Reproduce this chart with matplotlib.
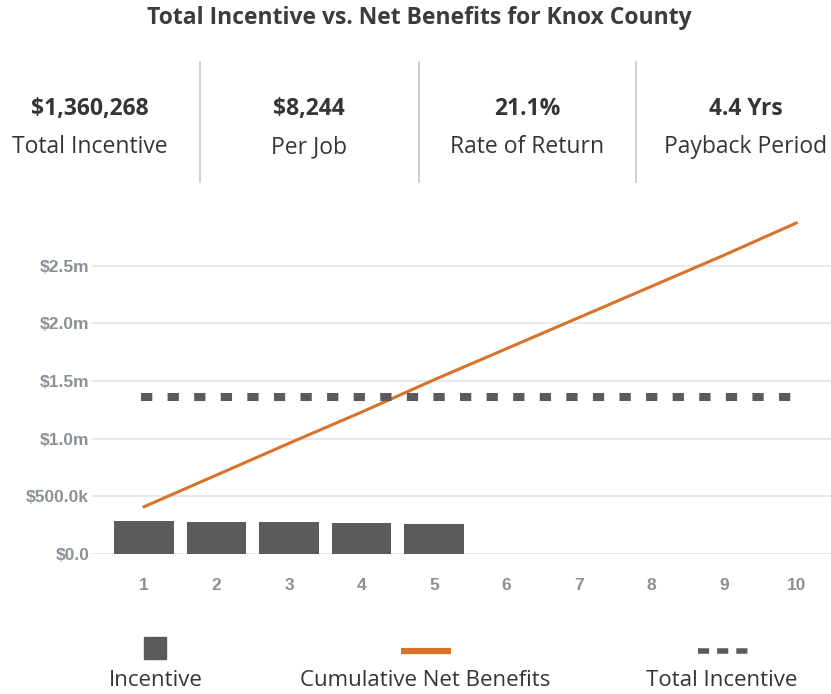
import numpy as np
import matplotlib
matplotlib.use("Agg")
import matplotlib.pyplot as plt
from matplotlib.patches import Rectangle
from matplotlib.lines import Line2D
from matplotlib.ticker import FuncFormatter

# Data
years = [1, 2, 3, 4, 5, 6, 7, 8, 9, 10]
incentive = [284000, 277000, 274000, 267000, 259000]
net_benefits = [410000, 685000, 960000, 1230000, 1510000,
                1780000, 2050000, 2320000, 2590000, 2870000]
total_incentive = 1360268

stat_values = ["$1,360,268", "$8,244", "21.1%", "4.4 Yrs"]
stat_labels = ["Total Incentive", "Per Job", "Rate of Return", "Payback Period"]
legend_labels = ["Incentive", "Cumulative Net Benefits", "Total Incentive"]

BAR = "#5b5b5d"
ORANGE = "#d9722b"
TICK = "#8b9098"
HEAD = "#333538"
FONT = "Open Sans"

W, H = 831, 694
fig = plt.figure(figsize=(W / 100, H / 100), dpi=100)


def fx(px):
    return px / W


def fy(py):
    return 1 - py / H


# Title and header stats
fig.text(fx(419), fy(18), "Total Incentive vs. Net Benefits for Knox County",
         ha="center", va="center", fontsize=16.5, fontweight="bold",
         color="#3a3c40", family=FONT)
cols = [90, 309, 527, 746]
for cx, v, lab in zip(cols, stat_values, stat_labels):
    fig.text(fx(cx), fy(109), v, ha="center", va="center", fontsize=16.5,
             fontweight="bold", color=HEAD, family=FONT)
    fig.text(fx(cx), fy(147), lab, ha="center", va="center", fontsize=16.5,
             color=HEAD, family=FONT)
for sx in [200, 419, 636]:
    fig.add_artist(Line2D([fx(sx), fx(sx)], [fy(62), fy(182)],
                          color="#c8c8c8", lw=1.2))

# Main axes: $0 at y=554, $3.0m at y=208
ax = fig.add_axes([fx(92), fy(554), fx(831) - fx(92), fy(208) - fy(554)])
ax.set_xlim(0.28, 10.48)
ax.set_ylim(0, 3.0e6)

ax.bar(years[:len(incentive)], incentive, width=0.82, color=BAR, zorder=2)
ax.plot(years, net_benefits, color=ORANGE, lw=2.2, zorder=3)
ax.plot([years[0] - 0.05, years[-1] + 0.05], [total_incentive] * 2,
        color=BAR, lw=5.8, dashes=(1.4, 1.9), solid_capstyle="butt",
        dash_capstyle="butt", zorder=3)

ax.set_yticks([0, 5e5, 1e6, 1.5e6, 2e6, 2.5e6])


def money(v, pos):
    if v == 0:
        return "$0.0"
    if v < 1e6:
        return "${:.1f}k".format(v / 1e3)
    return "${:.1f}m".format(v / 1e6)


ax.yaxis.set_major_formatter(FuncFormatter(money))
ax.set_xticks(years)
ax.grid(axis="y", color="#e4e4e4", lw=1.2, zorder=0)
for s in ax.spines.values():
    s.set_visible(False)
ax.tick_params(length=0, labelcolor=TICK, labelsize=12.5)
ax.tick_params(axis="y", pad=2)
ax.tick_params(axis="x", pad=17)
for t in ax.get_xticklabels() + ax.get_yticklabels():
    t.set_fontweight("bold")
    t.set_family("Liberation Sans")

# Legend drawn by hand
fig.add_artist(Rectangle((fx(144), fy(659)), fx(22), fy(637) - fy(659),
                         color=BAR, transform=fig.transFigure))
fig.add_artist(Line2D([fx(401), fx(451)], [fy(651), fy(651)],
                      color=ORANGE, lw=4.5, solid_capstyle="butt"))
fig.add_artist(Line2D([fx(698), fx(750)], [fy(651), fy(651)],
                      color=BAR, lw=4.0, dashes=(2.0, 1.45), dash_capstyle="butt"))
for cx, lab in zip([156, 425, 722], legend_labels):
    fig.text(fx(cx), fy(680), lab, ha="center", va="center", fontsize=16,
             color=HEAD, family=FONT)

fig.savefig("out.png", dpi=100)
